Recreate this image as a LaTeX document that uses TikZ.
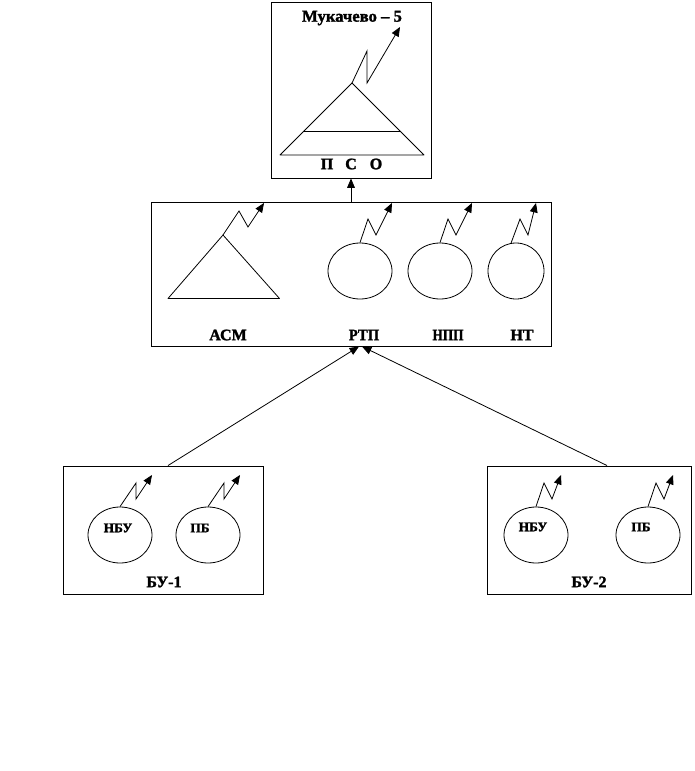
\documentclass[tikz,border=0pt]{standalone}
\usepackage{fontspec}
\setmainfont[BoldFeatures={FakeBold=1.6}]{Liberation Serif}
\usetikzlibrary{positioning,shapes,arrows}
\tikzstyle{block}=[rectangle, draw=black, line width=0.7pt, inner sep=0pt]
\tikzstyle{post}=[ellipse, draw=black, line width=0.6pt, inner sep=0pt, minimum width=48pt, minimum height=42pt]
\tikzstyle{zap}=[draw=black, line width=0.6pt, -triangle 45]
\tikzstyle{link}=[draw=black, line width=0.6pt, -triangle 45]
\tikzstyle{tri}=[draw=black, line width=0.6pt, line join=round]
\tikzstyle{big}=[font=\bfseries\fontsize{12pt}{14pt}\selectfont, inner sep=0pt]
\tikzstyle{small}=[font=\bfseries\fontsize{10pt}{12pt}\selectfont, inner sep=0pt]

\begin{document}
\begin{tikzpicture}[x=0.75pt,y=-0.75pt]
            \useasboundingbox (0,0) rectangle (694,771);
            % boxes
            \node (mukachevo)[block, minimum width=120pt, minimum height=132pt] at (351,90) {};
            \node (centre)[block, minimum width=300pt, minimum height=108pt] at (351,274) {};
            \node (bu1)[block, minimum width=150pt, minimum height=96pt] at (163,530) {};
            \node (bu2)[block, minimum width=153pt, minimum height=96pt] at (589,530) {};
            % top box
            \node (title)[big, font=\bfseries\fontsize{12.5pt}{14pt}\selectfont] at (352,18) {Мукачево – 5};
            \coordinate (pso) at (352,83);
            \draw[tri] (pso) -- (280,155) -- (424,155) -- cycle;
            \draw[tri] (304,131) -- (400,131);
            \draw[zap] (pso) -- (367,51) -- (367,83) -- (400,27);
            \node (p)[big] at (327,164) {П};
            \node (s)[big] at (351,164) {С};
            \node (o)[big] at (376,164) {О};
            % middle box
            \coordinate (asmtop) at (223,235);
            \draw[tri] (asmtop) -- (168,298.5) -- (279.5,298.5) -- cycle;
            \draw[zap] (asmtop) -- (239,211) -- (248,227) -- (264,203);
            \node (rtp)[post] at (360,271) {};
            \node (npp)[post] at (440,271) {};
            \node (nt)[post, minimum width=42pt] at (516,271) {};
            \draw[zap] (rtp.north) -- (368,219) -- (376,235) -- (392,203);
            \draw[zap] (npp.north) -- (448,219) -- (456,235) -- (472,203);
            \draw[zap] (nt.100) -- (520,219) -- (528,235) -- (536,203);
            \node (asmtext)[big] at (228,335) {АСМ};
            \node (rtptext)[big, xscale=0.92, transform shape] at (364,335) {РТП};
            \node (npptext)[big, xscale=0.83, transform shape] at (448,335) {НПП};
            \node (nttext)[big] at (522,335) {НТ};
            % left box
            \node (nbu1)[post] at (120,535) {};
            \node (pb1)[post] at (208,535) {};
            \draw[zap] (nbu1.north) -- (136,483) -- (136,499) -- (152,475);
            \draw[zap] (pb1.north) -- (224,483) -- (224,499) -- (240,475);
            \node (nbu1text)[small] at (118,528) {НБУ};
            \node (pb1text)[small] at (200,528) {ПБ};
            \node (bu1text)[big] at (164,582) {БУ-1};
            % right box
            \node (nbu2)[post] at (536,535) {};
            \node (pb2)[post] at (648,535) {};
            \draw[zap] (nbu2.north) -- (544,483) -- (552,499) -- (561,475);
            \draw[zap] (pb2.north) -- (656,483) -- (664,499) -- (673,475);
            \node (nbu2text)[small] at (533,527) {НБУ};
            \node (pb2text)[small] at (641,527) {ПБ};
            \node (bu2text)[big] at (589,582) {БУ-2};
            % links
            \draw[link] (centre.north) -- (mukachevo.south);
            \draw[link] ([xshift=3.75pt]bu1.north) -- ([xshift=6pt]centre.south);
            \draw[link] ([xshift=13.5pt]bu2.north) -- ([xshift=8.25pt]centre.south);
        \end{tikzpicture}
\end{document}
